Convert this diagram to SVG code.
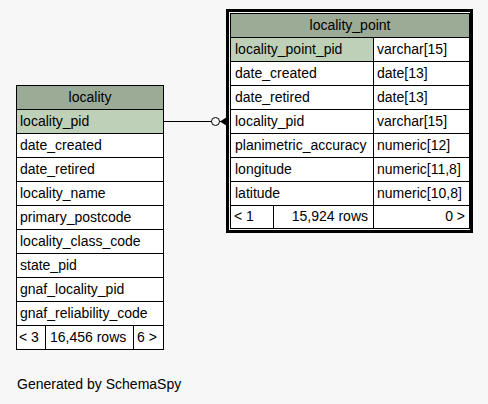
<svg xmlns="http://www.w3.org/2000/svg" width="488" height="404" viewBox="0 0 488 404">
  <defs>
    <style>
      text { font-family: "Liberation Sans", Arial, Helvetica, sans-serif; font-size: 14px; fill: #000; }
      .mid { text-anchor: middle; }
      .end { text-anchor: end; }
      .cell { fill: #ffffff; stroke: #000; stroke-width: 1; }
      .head { fill: #9bab96; stroke: #000; stroke-width: 1; }
      .pk { fill: #bed1b8; stroke: #000; stroke-width: 1; }
      .edge { fill: none; stroke: #000; stroke-width: 1; }
    </style>
  </defs>
  <rect x="0" y="0" width="488" height="404" fill="#f7f7f7"/>

  <!-- table: locality -->
  <g id="locality">
    <rect class="head" x="16.5" y="85.5" width="147" height="24"/>
    <text class="mid" x="90" y="102">locality</text>
    <rect class="pk" x="16.5" y="109.5" width="147" height="24"/>
    <text x="20" y="126">locality_pid</text>
    <rect class="cell" x="16.5" y="133.5" width="147" height="24"/>
    <text x="20" y="150">date_created</text>
    <rect class="cell" x="16.5" y="157.5" width="147" height="24"/>
    <text x="20" y="174">date_retired</text>
    <rect class="cell" x="16.5" y="181.5" width="147" height="24"/>
    <text x="20" y="198">locality_name</text>
    <rect class="cell" x="16.5" y="205.5" width="147" height="24"/>
    <text x="20" y="222">primary_postcode</text>
    <rect class="cell" x="16.5" y="229.5" width="147" height="24"/>
    <text x="20" y="246">locality_class_code</text>
    <rect class="cell" x="16.5" y="253.5" width="147" height="24"/>
    <text x="20" y="270">state_pid</text>
    <rect class="cell" x="16.5" y="277.5" width="147" height="24"/>
    <text x="20" y="294">gnaf_locality_pid</text>
    <rect class="cell" x="16.5" y="301.5" width="147" height="24"/>
    <text x="20" y="318">gnaf_reliability_code</text>
    <rect class="cell" x="16.5" y="325.5" width="147" height="24"/>
    <line class="edge" x1="45.5" y1="325.5" x2="45.5" y2="349.5"/>
    <line class="edge" x1="133.5" y1="325.5" x2="133.5" y2="349.5"/>
    <text x="19" y="342">&lt; 3</text>
    <text x="50" y="342">16,456 rows</text>
    <text x="137" y="342">6 &gt;</text>
  </g>

  <!-- table: locality_point -->
  <g id="locality_point">
    <rect x="227.5" y="10.5" width="244" height="221" fill="#f7f7f7" stroke="#000" stroke-width="3"/>
    <rect class="head" x="230.5" y="13.5" width="239" height="24"/>
    <text class="mid" x="350" y="30">locality_point</text>
    <rect class="pk" x="230.5" y="37.5" width="143" height="24"/>
    <rect class="cell" x="373.5" y="37.5" width="96" height="24"/>
    <text x="235" y="54">locality_point_pid</text>
    <text x="377" y="54">varchar[15]</text>
    <rect class="cell" x="230.5" y="61.5" width="143" height="24"/>
    <rect class="cell" x="373.5" y="61.5" width="96" height="24"/>
    <text x="235" y="78">date_created</text>
    <text x="377" y="78">date[13]</text>
    <rect class="cell" x="230.5" y="85.5" width="143" height="24"/>
    <rect class="cell" x="373.5" y="85.5" width="96" height="24"/>
    <text x="235" y="102">date_retired</text>
    <text x="377" y="102">date[13]</text>
    <rect class="cell" x="230.5" y="109.5" width="143" height="24"/>
    <rect class="cell" x="373.5" y="109.5" width="96" height="24"/>
    <text x="235" y="126">locality_pid</text>
    <text x="377" y="126">varchar[15]</text>
    <rect class="cell" x="230.5" y="133.5" width="143" height="24"/>
    <rect class="cell" x="373.5" y="133.5" width="96" height="24"/>
    <text x="235" y="150">planimetric_accuracy</text>
    <text x="377" y="150">numeric[12]</text>
    <rect class="cell" x="230.5" y="157.5" width="143" height="24"/>
    <rect class="cell" x="373.5" y="157.5" width="96" height="24"/>
    <text x="235" y="174">longitude</text>
    <text x="377" y="174">numeric[11,8]</text>
    <rect class="cell" x="230.5" y="181.5" width="143" height="24"/>
    <rect class="cell" x="373.5" y="181.5" width="96" height="24"/>
    <text x="235" y="198">latitude</text>
    <text x="377" y="198">numeric[10,8]</text>
    <rect class="cell" x="230.5" y="205.5" width="239" height="23"/>
    <line class="edge" x1="273.5" y1="205.5" x2="273.5" y2="228.5"/>
    <line class="edge" x1="373.5" y1="205.5" x2="373.5" y2="228.5"/>
    <text x="234" y="221">&lt; 1</text>
    <text class="end" x="368" y="221">15,924 rows</text>
    <text class="end" x="465" y="221">0 &gt;</text>
  </g>

  <!-- relationship: locality.locality_pid -> locality_point.locality_pid -->
  <g id="connectors">
    <line class="edge" x1="164" y1="121.5" x2="211.5" y2="121.5"/>
    <circle class="edge" cx="215.5" cy="121.5" r="4"/>
    <polygon points="220,121.5 227,117 227,126" fill="#000"/>
    <line class="edge" x1="219.5" y1="121.5" x2="227" y2="121.5"/>
  </g>

  <text x="17" y="389">Generated by SchemaSpy</text>
</svg>
